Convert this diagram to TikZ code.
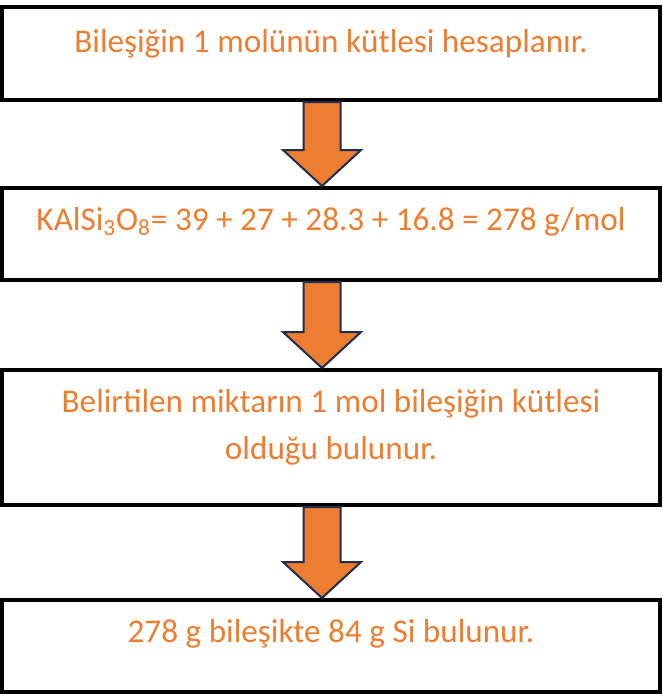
\documentclass[tikz,border=0pt]{standalone}
\usepackage{fontspec}
\setmainfont{Carlito}
\usetikzlibrary{calc,positioning}
\definecolor{turuncu}{RGB}{237,125,49}
\definecolor{lacivert}{RGB}{31,45,80}

\begin{document}
\begin{tikzpicture}[x=0.5pt,y=-0.5pt,
	box/.style={draw=black,line width=2pt,minimum width=329pt,inner sep=0pt},
	yazi/.style={text=turuncu,font=\fontsize{16.6}{23.5}\selectfont,align=center,inner sep=0pt},
	okkutu/.style={fill=turuncu,draw=lacivert,line width=1pt,line join=miter}]
	\useasboundingbox (0,0) rectangle (663,697);
	% kutular
	\node[box,minimum height=46.5pt] (kutu1) at (331,53.5) {};
	\node[box,minimum height=46pt] (kutu2) at (331,234) {};
	\node[box,minimum height=67.5pt] (kutu3) at (331,437.5) {};
	\node[box,minimum height=46pt] (kutu4) at (331,646) {};
	% yazilar
	\node[yazi] (yazi1) at (331,44) {Bileşiğin 1 molünün kütlesi hesaplanır.};
	\node[yazi] (yazi2) at (331,222) {KAlSi\textsubscript{3}O\textsubscript{8}= 39 + 27 + 28.3 + 16.8 = 278 g/mol};
	\node[yazi] (yazi3) at (331,427) {Belirtilen miktarın 1 mol bileşiğin kütlesi\\olduğu bulunur.};
	\node[yazi] (yazi4) at (331,634) {278 g bileşikte 84 g Si bulunur.};
	% oklar
	\foreach \ust/\alt in {kutu1/kutu2,kutu2/kutu3,kutu3/kutu4}{
		\coordinate (u) at ([xshift=-4.5pt]\ust.south);
		\coordinate (a) at ([xshift=-4.5pt]\alt.north);
		\draw[okkutu] ($(u)+(-18.5,0)$) -- ($(u)+(18.5,0)$) -- ($(a)+(18.5,-36)$)
			-- ($(a)+(39,-36)$) -- (a) -- ($(a)+(-39,-36)$) -- ($(a)+(-18.5,-36)$) -- cycle;
	}
\end{tikzpicture}
\end{document}
